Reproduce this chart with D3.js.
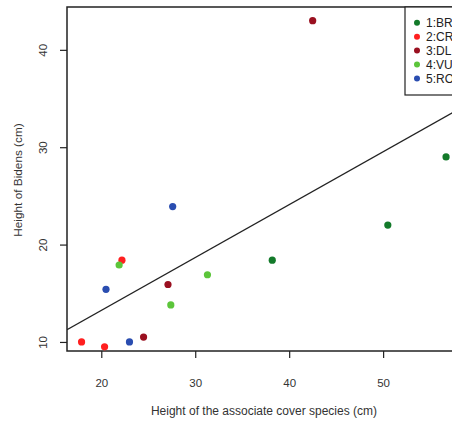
<!DOCTYPE html>
<html><head><meta charset="utf-8">
<script src="https://cdn.jsdelivr.net/npm/d3@7"></script>
<style>html,body{margin:0;padding:0;background:#fff;overflow:hidden}svg{display:block}</style>
</head><body>
<script>
// Data
const groups = ["1:BR", "2:CR", "3:DL", "4:VU", "5:RO"];
const groupColors = ["#137a2a", "#ff1f1f", "#9a1020", "#5cc53a", "#2a4db0"];
const coverHeight = [56.7, 50.5, 38.2, 17.9, 20.35, 22.2, 42.5, 27.1, 24.5, 21.9, 31.3, 27.4, 27.6, 20.5, 23.0];
const bidensHeight = [29.0, 22.0, 18.4, 10.0, 9.5, 18.4, 43.0, 15.9, 10.5, 17.9, 16.9, 13.8, 23.9, 15.4, 10.0];
const pointGroup = [0, 0, 0, 1, 1, 1, 2, 2, 2, 3, 3, 3, 4, 4, 4];
const xTicks = [20, 30, 40, 50];
const yTicks = [10, 20, 30, 40];
const fitIntercept = 2.38, fitSlope = 0.543;

const W = 452, H = 424;
const svg = d3.select("body").append("svg").attr("width", W).attr("height", H);
const L = 67, T = 7, B = 351, R = 478;
const x = d3.scaleLinear().domain([16.35, 60.1]).range([L, R]);
const y = d3.scaleLinear().domain([9.07, 44.4]).range([B, T]);
const font = "Liberation Sans, Arial, sans-serif";

// x axis
const xa = svg.append("g").attr("transform", `translate(0,${B})`)
  .call(d3.axisBottom(x).tickValues(xTicks).tickSize(7).tickPadding(21).tickFormat(d3.format("d")));
xa.select(".domain").remove();
xa.selectAll("line").attr("stroke", "#222").attr("stroke-width", 1.2);
xa.selectAll("text").attr("font-family", font).attr("font-size", 11.5).attr("fill", "#333");

// y axis
const ya = svg.append("g").attr("transform", `translate(${L},0)`)
  .call(d3.axisLeft(y).tickValues(yTicks).tickSize(7).tickPadding(4).tickFormat(d3.format("d")));
ya.select(".domain").remove();
ya.selectAll("line").attr("stroke", "#222").attr("stroke-width", 1.2);
ya.selectAll("text").attr("font-family", font).attr("font-size", 11.5).attr("fill", "#333")
  .attr("text-anchor", "middle").attr("x", null).attr("dy", null)
  .attr("transform", "translate(-24,0) rotate(-90)").attr("dy", "0.35em");

// frame
svg.append("rect").attr("x", L).attr("y", T).attr("width", R - L).attr("height", B - T)
  .attr("fill", "none").attr("stroke", "#222").attr("stroke-width", 1.5);

// clip
svg.append("clipPath").attr("id", "clip").append("rect")
  .attr("x", L).attr("y", T).attr("width", R - L).attr("height", B - T);

// regression line
const xs = x.domain();
svg.append("line").attr("clip-path", "url(#clip)")
  .attr("x1", x(xs[0])).attr("y1", y(fitIntercept + fitSlope * xs[0]))
  .attr("x2", x(xs[1])).attr("y2", y(fitIntercept + fitSlope * xs[1]))
  .attr("stroke", "#222").attr("stroke-width", 1.3);

// points
svg.append("g").selectAll("circle").data(coverHeight).join("circle")
  .attr("cx", (d) => x(d)).attr("cy", (d, i) => y(bidensHeight[i]))
  .attr("r", 3.6).attr("fill", (d, i) => groupColors[pointGroup[i]]);

// legend
const lg = svg.append("g");
lg.append("rect").attr("x", 405).attr("y", T).attr("width", 120).attr("height", 95 - T)
  .attr("fill", "#fff").attr("stroke", "#222").attr("stroke-width", 1.2);
groups.forEach((g, i) => {
  const cy = 22.8 + i * 13.9;
  lg.append("circle").attr("cx", 417).attr("cy", cy).attr("r", 3).attr("fill", groupColors[i]);
  lg.append("text").attr("x", 426).attr("y", cy).attr("dy", "0.35em")
    .attr("font-family", font).attr("font-size", 12).attr("fill", "#222").text(g);
});

// axis titles
svg.append("text").attr("x", 264).attr("y", 415).attr("text-anchor", "middle")
  .attr("font-family", font).attr("font-size", 12).attr("fill", "#333")
  .text("Height of the associate cover species (cm)");
svg.append("text").attr("transform", "translate(18,180) rotate(-90)").attr("text-anchor", "middle")
  .attr("dy", "0.35em").attr("font-family", font).attr("font-size", 11.8).attr("fill", "#333")
  .text("Height of Bidens (cm)");
</script>
</body></html>
